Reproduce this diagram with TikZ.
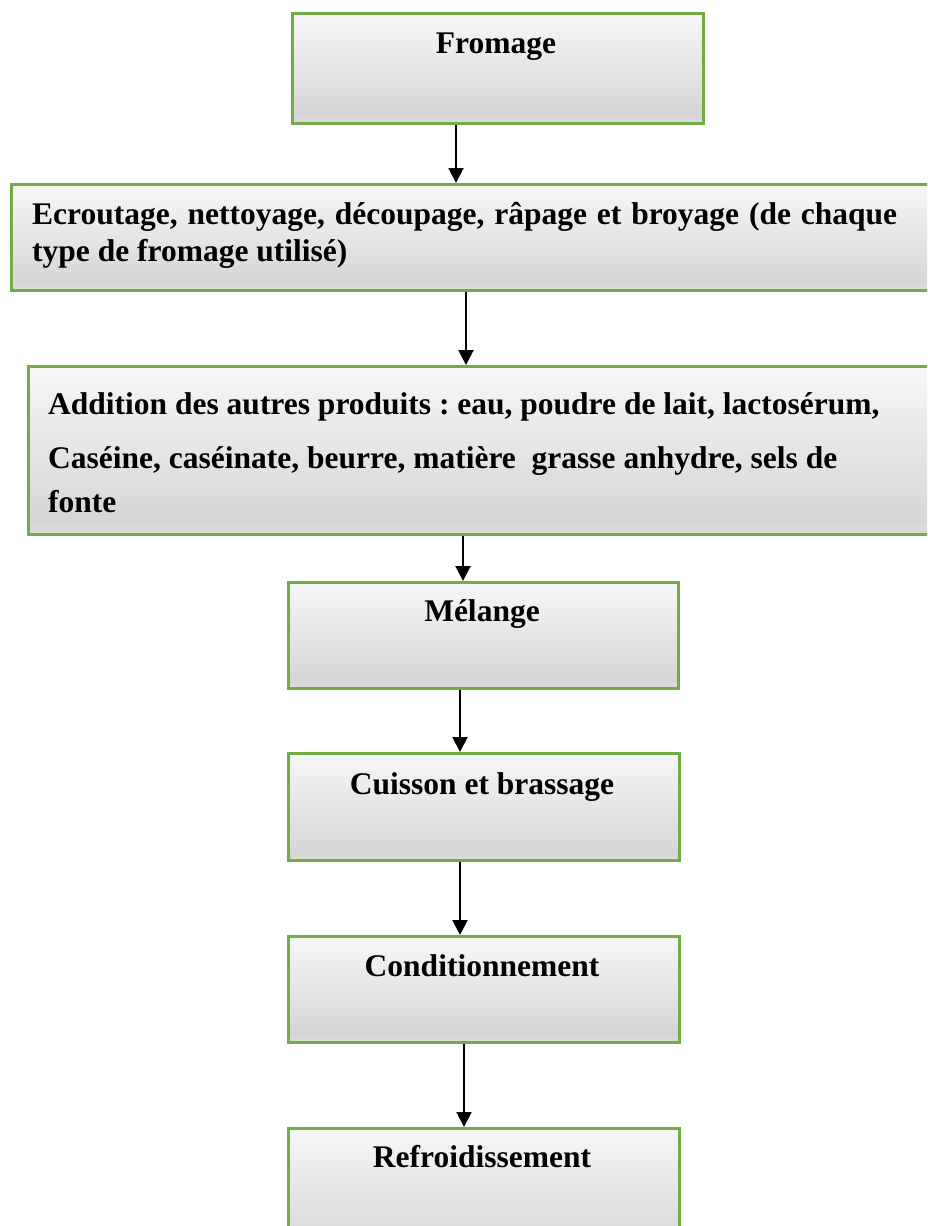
\documentclass[tikz,border=0pt]{standalone}
\usepackage{fontspec}
\setmainfont{Liberation Serif}
\usetikzlibrary{arrows.meta}
\definecolor{boxgreen}{HTML}{70AD47}
\definecolor{shtop}{HTML}{F7F7F7}
\definecolor{shdark}{HTML}{D6D6D6}
\definecolor{shbot}{HTML}{DDDDDD}
\pgfdeclareverticalshading{boxshade}{100bp}{color(0bp)=(shbot); color(25bp)=(shbot); color(29bp)=(shdark); color(75bp)=(shtop); color(100bp)=(shtop)}
\tikzset{
  box/.style={draw=boxgreen, line width=2.7pt, shade, shading=boxshade, inner sep=0pt, anchor=north west},
  lbl/.style={font=\fontsize{31.5}{37}\selectfont\bfseries\frenchspacing, inner sep=0pt, anchor=base},
  lblw/.style={lbl, anchor=base west},
  flow/.style={line width=2pt, -{Triangle[width=15pt,length=15pt]}}
}
\begin{document}
\begin{tikzpicture}[x=1pt,y=-1pt]
\useasboundingbox (0,0) rectangle (927,1226);
\clip (0,0) rectangle (927,1226);
% boxes
\node[box, minimum width=411pt, minimum height=110pt] (b1) at (291,12) {};
\node[box, minimum width=940pt, minimum height=106pt] (b2) at (10,183) {};
\node[box, minimum width=920pt, minimum height=168pt] (b3) at (27,365) {};
\node[box, minimum width=390pt, minimum height=106pt] (b4) at (287,581) {};
\node[box, minimum width=391pt, minimum height=107pt] (b5) at (287,752) {};
\node[box, minimum width=391pt, minimum height=106pt] (b6) at (287,935) {};
\node[box, minimum width=391pt, minimum height=130pt] (b7) at (287,1127) {};
% texts
\node[lbl] (t1) at (496,53) {Fromage};
\node[lblw] (t2a) at (32,224) {\makebox[865pt][s]{Ecroutage, nettoyage, découpage, râpage et broyage (de chaque}};
\node[lblw] (t2b) at (32,261) {type de fromage utilisé)};
\node[lblw] (t3a) at (48,414) {Addition des autres produits : eau, poudre de lait, lactosérum,};
\node[lblw] (t3b) at (48,468) {Caséine, caséinate, beurre, matière~ grasse anhydre, sels de};
\node[lblw] (t3c) at (48,512) {fonte};
\node[lbl] (t4) at (482,621) {Mélange};
\node[lbl] (t5) at (482,794) {Cuisson et brassage};
\node[lbl] (t6) at (482,976) {Conditionnement};
\node[lbl] (t7) at (482,1167) {Refroidissement};
% arrow columns
\coordinate (x1) at (456,0);
\coordinate (x2) at (466,0);
\coordinate (x3) at (463,0);
\coordinate (x4) at (460,0);
\coordinate (x5) at (460,0);
\coordinate (x6) at (464,0);
\draw[flow] (b1.south -| x1) -- (b2.north -| x1);
\draw[flow] (b2.south -| x2) -- (b3.north -| x2);
\draw[flow] (b3.south -| x3) -- (b4.north -| x3);
\draw[flow] (b4.south -| x4) -- (b5.north -| x4);
\draw[flow] (b5.south -| x5) -- (b6.north -| x5);
\draw[flow] (b6.south -| x6) -- (b7.north -| x6);
\end{tikzpicture}
\end{document}
